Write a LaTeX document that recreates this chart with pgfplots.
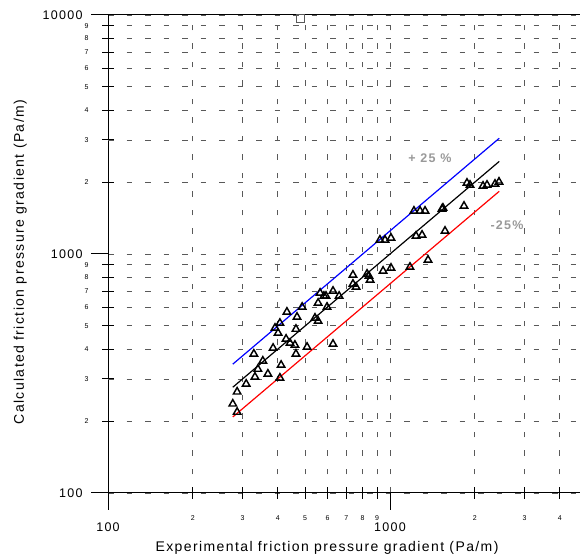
\documentclass[border=0pt]{standalone}
\usepackage{fontspec}
\setmainfont{Liberation Sans}[LetterSpace=10]
\usepackage{pgfplots}
\pgfplotsset{compat=1.18}
\pgfplotstableread{
x y
277 236
287 218
287 265
309 286
329 382
332 306
340 330
354 357
369 315
385 404
391 490
401 467
407 514
407 303
411 343
428 441
431 572
442 424
460 416
464 382
464 485
468 545
488 600
508 408
542 540
556 524
556 624
565 687
583 667
593 667
598 600
628 420
628 700
660 667
739 817
739 749
758 728
829 825
842 809
850 779
921 1145
945 849
960 1145
1008 874
1008 1167
1177 882
1216 1514
1237 1190
1278 1514
1299 1201
1331 1514
1364 944
1529 1543
1541 1558
1567 1248
1830 1588
1875 1982
1922 1944
2137 1926
2208 1944
2357 1963
2435 2002
}\datatab
\begin{document}
\begin{tikzpicture}
\useasboundingbox (-108pt,-63pt) rectangle (472pt,493pt);
\begin{axis}[
  xmode=log, ymode=log,
  scale only axis, width=472pt, height=478pt,
  xmin=100, xmax=4718, ymin=100, ymax=10000,
  axis x line*=box, axis y line*=left,
  xtick pos=bottom, ytick pos=left,
  clip=false,
  /pgf/number format/assume math mode=true,
  axis line style={black, line width=1pt},
  xtick={100,1000}, xticklabels={100,1000},
  ytick={100,1000,10000}, yticklabels={100,1000,10000},
  tick align=outside, major tick length=17pt,
  every tick/.style={black, line width=1pt},
  minor tick style={draw=none},
  tick label style={font=\fontsize{12.5}{14}\selectfont},
  xticklabel style={yshift=-9pt},
  yticklabel style={xshift=-5pt},
  grid=major,
  major grid style={black!65, line width=0.9pt, dash pattern=on 5.5pt off 13pt},
  extra x ticks={200,300,400,500,600,700,800,900,2000,3000,4000},
  extra x tick labels={2,3,4,5,6,7,8,9,2,3,4},
  extra y ticks={200,300,400,500,600,700,800,900,2000,3000,4000,5000,6000,7000,8000,9000},
  extra y tick labels={2,3,4,5,6,7,8,9,2,3,4,5,6,7,8,9},
  extra x tick style={grid=major, tick align=center, major tick length=12pt,
    xticklabel style={font=\fontsize{7}{8}\selectfont, yshift=-4pt}},
  extra y tick style={grid=major, tick align=center, major tick length=12pt,
    yticklabel style={font=\fontsize{7}{8}\selectfont, xshift=-5pt}},
  xlabel={Experimental friction pressure gradient (Pa/m)},
  ylabel={Calculated friction pressure gradient (Pa/m)},
  label style={font=\fontsize{14}{16}\selectfont},
  xlabel style={at={(axis description cs:0.464,-0.115)}, anchor=center},
  ylabel style={at={(axis description cs:-0.186,0.483)}, anchor=center},
]
\addplot[blue, line width=1.2pt] coordinates {(277,346) (2440,3050)};
\addplot[black, line width=1.2pt] coordinates {(277,277) (2440,2440)};
\addplot[red, line width=1.2pt] coordinates {(277,208) (2440,1830)};
\addplot[only marks, mark=triangle, mark size=4.3pt, mark options={black, line width=1.45pt, fill=none}] table[x=x, y=y] {\datatab};
\addplot[only marks, mark=square, mark size=4pt, mark options={black!65, line width=1pt}] coordinates {(480,9640)};
\node[text=black!40, font=\fontsize{12.5}{14}\selectfont\bfseries] at (axis cs:1386,2522) {+ 25 \%};
\node[text=black!40, font=\fontsize{12.5}{14}\selectfont\bfseries] at (axis cs:2600,1322) {-25\%};
\end{axis}
\end{tikzpicture}
\end{document}
